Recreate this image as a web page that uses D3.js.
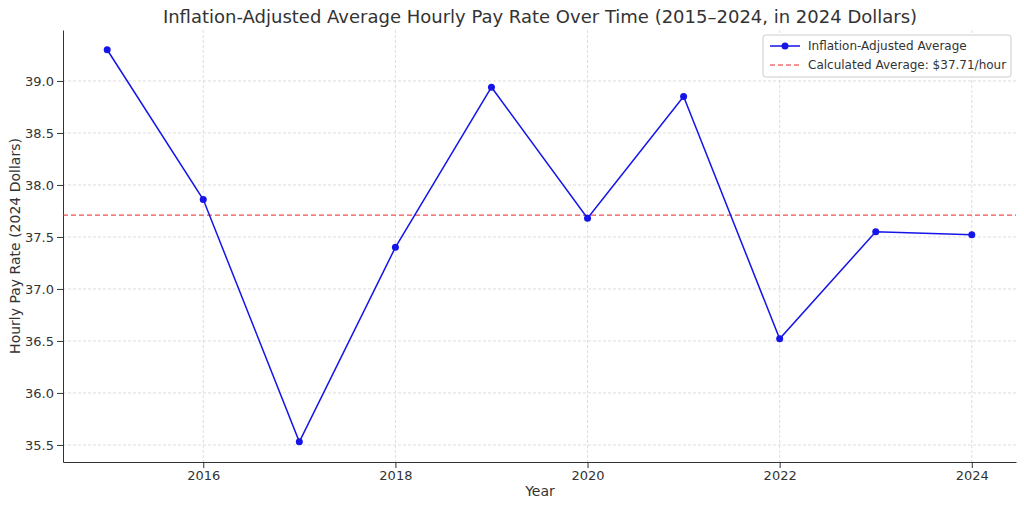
<!DOCTYPE html><html><head><meta charset="utf-8"><script src="https://cdn.jsdelivr.net/npm/d3@7"></script>
<style>body{margin:0;background:#fff}text{font-family:"DejaVu Sans",sans-serif;fill:#333}</style></head><body><svg id="c" width="1024" height="508"></svg><script>
const years=[2015,2016,2017,2018,2019,2020,2021,2022,2023,2024];
const pay=[39.30,37.86,35.53,37.40,38.94,37.68,38.85,36.52,37.55,37.52];
const average=37.71;
const yTicks=[35.5,36.0,36.5,37.0,37.5,38.0,38.5,39.0];
const xTicks=[2016,2018,2020,2022,2024];
const svg=d3.select("#c");
const L=63,R=1016,T=30,B=462;
const x=d3.scaleLinear().domain([2014.54,2024.46]).range([L,R]);
const y=d3.scaleLinear().domain([35.336,39.49]).range([B,T]);
const g=svg.append("g");
g.selectAll(".gx").data(xTicks).join("line").attr("x1",d=>x(d)).attr("x2",d=>x(d)).attr("y1",T).attr("y2",B).attr("stroke","#ddd").attr("stroke-dasharray","3,2");
g.selectAll(".gy").data(yTicks).join("line").attr("y1",d=>y(d)).attr("y2",d=>y(d)).attr("x1",L).attr("x2",R).attr("stroke","#ddd").attr("stroke-dasharray","3,2");
const xa=svg.append("g").attr("transform",`translate(0,${B})`).call(d3.axisBottom(x).tickValues(xTicks).tickFormat(d3.format("d")).tickSizeOuter(0));
const ya=svg.append("g").attr("transform",`translate(${L},0)`).call(d3.axisLeft(y).tickValues(yTicks).tickFormat(d3.format(".1f")).tickSizeOuter(0));
[xa,ya].forEach(a=>{a.selectAll("text").style("font-size","13px").style("font-family","DejaVu Sans").attr("fill","#333");a.selectAll("line,path").attr("stroke","#333");});
svg.append("line").attr("x1",L).attr("x2",R).attr("y1",y(average)).attr("y2",y(average)).attr("stroke","#e8262a").attr("stroke-dasharray","5,3");
svg.append("path").datum(years.map((d,i)=>[d,pay[i]])).attr("d",d3.line().x(d=>x(d[0])).y(d=>y(d[1]))).attr("fill","none").attr("stroke","#1515e8").attr("stroke-width",1.5);
svg.selectAll(".p").data(years).join("circle").attr("cx",d=>x(d)).attr("cy",(d,i)=>y(pay[i])).attr("r",3.5).attr("fill","#1515e8");
svg.append("text").attr("x",540).attr("y",23).attr("text-anchor","middle").style("font-size","18px").text("Inflation-Adjusted Average Hourly Pay Rate Over Time (2015–2024, in 2024 Dollars)");
svg.append("text").attr("x",540).attr("y",496).attr("text-anchor","middle").style("font-size","14px").text("Year");
svg.append("text").attr("transform","translate(20,246) rotate(-90)").attr("text-anchor","middle").style("font-size","14px").text("Hourly Pay Rate (2024 Dollars)");
const lg=svg.append("g");
lg.append("rect").attr("x",763).attr("y",35).attr("width",248).attr("height",42).attr("rx",3).attr("fill","#fff").attr("stroke","#ccc");
lg.append("line").attr("x1",770).attr("x2",800).attr("y1",46).attr("y2",46).attr("stroke","#1515e8").attr("stroke-width",1.5);
lg.append("circle").attr("cx",785).attr("cy",46).attr("r",3.5).attr("fill","#1515e8");
lg.append("text").attr("x",808).attr("y",50).style("font-size","12px").text("Inflation-Adjusted Average");
lg.append("line").attr("x1",770).attr("x2",800).attr("y1",65).attr("y2",65).attr("stroke","#e8262a").attr("stroke-dasharray","5,3");
lg.append("text").attr("x",808).attr("y",69).style("font-size","12px").text("Calculated Average: $"+average+"/hour");
</script></body></html>
